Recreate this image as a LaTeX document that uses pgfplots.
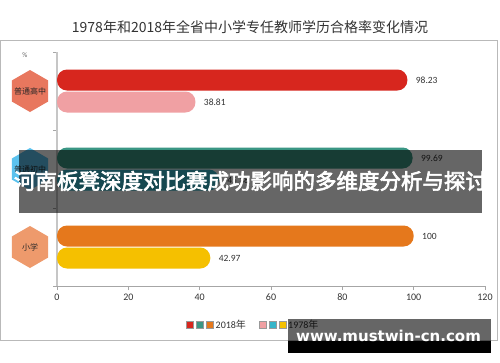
\documentclass[border=0pt]{standalone}
\usepackage{pgfplots}
\pgfplotsset{compat=1.18}
\usepackage{fontspec}
\setmainfont{Carlito}
\newfontfamily\cjk{Noto Sans CJK SC}
\newfontfamily\cjkb{Noto Sans CJK SC}[FakeBold=3]
\newfontfamily\wmfont{DejaVu Sans}
\usetikzlibrary{shapes.geometric}
\definecolor{cRed}{HTML}{D7261E}
\definecolor{cPink}{HTML}{F0A0A3}
\definecolor{cTeal}{HTML}{3A9684}
\definecolor{cCyan}{HTML}{35B5C9}
\definecolor{cOrange}{HTML}{E5781C}
\definecolor{cYellow}{HTML}{F5C000}
\definecolor{hA}{HTML}{E8775E}
\definecolor{hB}{HTML}{5BC2EE}
\definecolor{hC}{HTML}{EE9A6C}
\begin{document}
\begin{tikzpicture}[x=1pt,y=1pt]
\useasboundingbox (0,0) rectangle (500,362);
\fill[white] (0,0) rectangle (500,362);
\draw[gray!55, line width=1pt] (0.5,21.5) rectangle (497,321);
\node[font=\cjk\fontsize{14}{16}\selectfont, text=black!80] at (250,335) {1978年和2018年全省中小学专任教师学历合格率变化情况};
\node[font=\fontsize{7}{8}\selectfont, text=black!60] at (25,307) {\%};
\begin{axis}[at={(57pt,76pt)}, anchor=south west, scale only axis,
  width=428pt, height=234pt, xmin=0, xmax=120, ymin=0, ymax=3, y dir=reverse,
  axis x line*=bottom, axis y line*=left, axis line style={-},
  x axis line style={gray!70, line width=0.8pt},
  y axis line style={gray!45, line width=1.6pt},
  xtick={0,20,...,120}, ytick={0,1,2,3}, yticklabels={},
  tick align=outside, major tick length=4pt, tick style={gray!70, line width=0.6pt},
  xticklabel style={font=\fontsize{10}{12}\selectfont, text=black!80},
  /pgf/number format/assume math mode=true, clip=false,
  xbar, bar width=21pt, bar shift=0pt,
  nodes near coords, point meta=explicit symbolic,
  nodes near coords style={font=\fontsize{9.5}{11}\selectfont, text=black!80, anchor=west, xshift=5pt}]
\addplot[fill=cRed, draw=none, rounded corners=10pt] coordinates {(98.23,0.359) [98.23]};
\addplot[fill=cPink, draw=none, rounded corners=10pt] coordinates {(38.81,0.641) [38.81]};
\addplot[fill=cTeal, draw=none, rounded corners=10pt] coordinates {(99.69,1.359) [99.69]};
\addplot[fill=cCyan, draw=none, rounded corners=10pt] coordinates {(45.38,1.641) [45.38]};
\addplot[fill=cOrange, draw=none, rounded corners=10pt] coordinates {(100,2.359) [100]};
\addplot[fill=cYellow, draw=none, rounded corners=10pt] coordinates {(42.97,2.641) [42.97]};
\node[regular polygon, regular polygon sides=6, shape border rotate=30, minimum size=42pt, inner sep=0pt, fill=hA] at (axis cs:-7.57,0.5) {};
\node[regular polygon, regular polygon sides=6, shape border rotate=30, minimum size=42pt, inner sep=0pt, fill=hB] at (axis cs:-7.57,1.5) {};
\node[regular polygon, regular polygon sides=6, shape border rotate=30, minimum size=42pt, inner sep=0pt, fill=hC] at (axis cs:-7.57,2.5) {};
\node[font=\cjk\fontsize{8}{9}\selectfont, text=black!85] at (axis cs:-7.57,0.5) {普通高中};
\node[font=\cjk\fontsize{8}{9}\selectfont, text=black!85] at (axis cs:-7.57,1.5) {普通初中};
\node[font=\cjk\fontsize{8}{9}\selectfont, text=black!85] at (axis cs:-7.57,2.5) {小学};
\end{axis}
% legend
\foreach \c/\x in {cRed/189.5, cTeal/199.5, cOrange/209.5, cPink/262.5, cCyan/272.5, cYellow/282.5}
  \draw[gray!80, line width=0.5pt, fill=\c] (\x-3.5,34) rectangle (\x+3.5,41);
\node[anchor=west, inner sep=0pt, font=\fontsize{10}{12}\selectfont, text=black!80] at (215.5,37.5) {2018{\cjk 年}};
\node[anchor=west, inner sep=0pt, font=\fontsize{10}{12}\selectfont, text=black!80] at (288,37.5) {1978{\cjk 年}};
% overlays
\fill[black, opacity=0.6] (19,212) rectangle (482,149);
\node[font=\cjkb\fontsize{21.5}{24}\selectfont, text=white] at (250.5,181) {河南板凳深度对比赛成功影响的多维度分析与探讨};
\fill[black, opacity=0.6] (288,43) rectangle (491,21);
\fill[black] (288,21) rectangle (491,9);
\node[font=\wmfont\bfseries\fontsize{15}{17}\selectfont, text=white] at (388.5,26) {www.mustwin-cn.com};
\end{tikzpicture}
\end{document}
